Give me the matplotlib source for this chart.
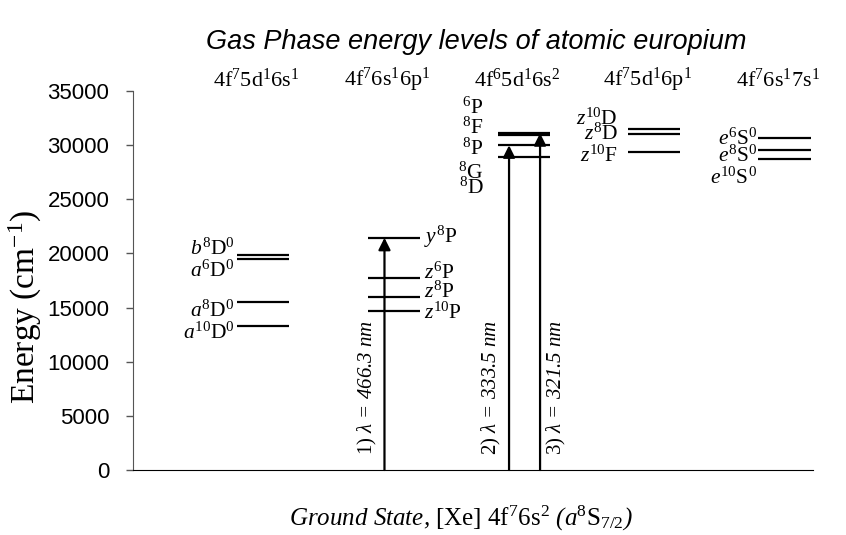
import matplotlib
matplotlib.use("Agg")
import matplotlib.pyplot as plt

plt.rcParams['mathtext.fontset'] = 'custom'
plt.rcParams['mathtext.rm'] = 'Liberation Serif'
plt.rcParams['mathtext.it'] = 'Liberation Serif:italic'
plt.rcParams['mathtext.bf'] = 'Liberation Serif:bold'

# electron configurations along the x axis
configs = [r"4f$^7$5d$^1$6s$^1$", r"4f$^7$6s$^1$6p$^1$", r"4f$^6$5d$^1$6s$^2$",
           r"4f$^7$5d$^1$6p$^1$", r"4f$^7$6s$^1$7s$^1$"]

# level energies (cm-1) for each configuration
levels_1 = [19840, 19470, 15500, 13290]
levels_2 = [1e7 / 466.3, 17720, 15960, 14670]
levels_3 = [1e7 / 321.5, 30940, 1e7 / 333.5, 28910]
levels_4 = [31470, 31000, 29340]
levels_5 = [30630, 29530, 28700]

# term symbols
terms_1 = [r"$\mathit{b}^8\mathrm{D}^0$", r"$\mathit{a}^6\mathrm{D}^0$",
           r"$\mathit{a}^8\mathrm{D}^0$", r"$\mathit{a}^{10}\mathrm{D}^0$"]
terms_2 = [r"$\mathit{y}^8\mathrm{P}$", r"$\mathit{z}^6\mathrm{P}$",
           r"$\mathit{z}^8\mathrm{P}$", r"$\mathit{z}^{10}\mathrm{P}$"]
terms_3 = [r"${}^6\mathrm{P}$", r"${}^8\mathrm{F}$", r"${}^8\mathrm{P}$",
           r"${}^8\mathrm{G}$", r"${}^8\mathrm{D}$"]
terms_4 = [r"$\mathit{z}^{10}\mathrm{D}$", r"$\mathit{z}^8\mathrm{D}$",
           r"$\mathit{z}^{10}\mathrm{F}$"]
terms_5 = [r"$\mathit{e}^6\mathrm{S}^0$", r"$\mathit{e}^8\mathrm{S}^0$",
           r"$\mathit{e}^{10}\mathrm{S}^0$"]

# excitation wavelengths (nm) from the ground state
wavelengths = [466.3, 333.5, 321.5]

fig = plt.figure(figsize=(8.46, 5.35), dpi=100)
ax = fig.add_axes([0.1572, 0.1215, 0.804, 0.7084])

ax.set_xlim(0, 5.22)
ax.set_ylim(0, 35000)
ax.set_yticks(range(0, 35001, 5000))
ax.set_xticks([])
for lbl in ax.get_yticklabels():
    lbl.set_family('Liberation Sans')
    lbl.set_fontsize(16)
ax.tick_params(axis='y', direction='out', length=5, width=1, color='#555555', pad=12)
ax.spines['top'].set_visible(False)
ax.spines['right'].set_visible(False)
ax.spines['left'].set_color('#555555')
ax.spines['bottom'].set_color('black')

serif = 'Liberation Serif'
hw = 0.2

all_levels = [levels_1, levels_2, levels_3, levels_4, levels_5]
for k, lev in enumerate(all_levels):
    x = k + 1
    ax.hlines(lev, x - hw, x + hw, color='black', lw=1.6)
    ax.text(x - 0.05, 36000, configs[k], family=serif, fontsize=16,
            ha='center', va='center', clip_on=False)

lsize = 15.5
# labels, placed beside the level lines
for t, y in zip(terms_1, [20490, 18450, 14760, 12730]):
    ax.text(0.78, y, t, ha='right', va='center', fontsize=lsize)
for t, y in zip(terms_2, [21500, 18270, 16520, 14580]):
    ax.text(2.23, y, t, ha='left', va='center', fontsize=lsize)
for t, y in zip(terms_3, [33500, 31650, 29710, 27500, 26110]):
    ax.text(2.69, y, t, ha='right', va='center', fontsize=lsize)
for t, y in zip(terms_4, [32480, 31100, 29070]):
    ax.text(3.72, y, t, ha='right', va='center', fontsize=lsize)
for t, y in zip(terms_5, [30630, 29070, 27040]):
    ax.text(4.79, y, t, ha='right', va='center', fontsize=lsize)

# transitions from the ground state
arrow_x = [1.93, 2.886, 3.124]
text_x = [1.80, 2.755, 3.25]
for i, (wl, xa, xt) in enumerate(zip(wavelengths, arrow_x, text_x)):
    e = 1e7 / wl
    ax.annotate('', xy=(xa, e), xytext=(xa, 0),
                arrowprops=dict(arrowstyle='-|>', lw=1.6, color='black',
                                mutation_scale=18, shrinkA=0, shrinkB=0))
    ax.text(xt, 1400, r"$\mathrm{%d)}$ λ = %.1f nm" % (i + 1, wl),
            family=serif, style='italic', rotation=90,
            ha='center', va='bottom', fontsize=15)

fig.text(476 / 846, 1 - 42 / 535, "Gas Phase energy levels of atomic europium",
         family='Liberation Sans', style='italic', fontsize=19.5,
         ha='center', va='center')
fig.text(25 / 846, 1 - 307 / 535, r"Energy (cm$^{-1}$)", family=serif,
         fontsize=24, rotation=90, ha='center', va='center')
fig.text(461 / 846, 1 - 518 / 535,
         r"Ground State, $\mathrm{[Xe]\ 4f^7 6s^2}$ (a$^8\mathrm{S}_{\mathit{7/2}}$)",
         family=serif, style='italic', fontsize=18, ha='center', va='center')

fig.savefig("out.png", dpi=100)
